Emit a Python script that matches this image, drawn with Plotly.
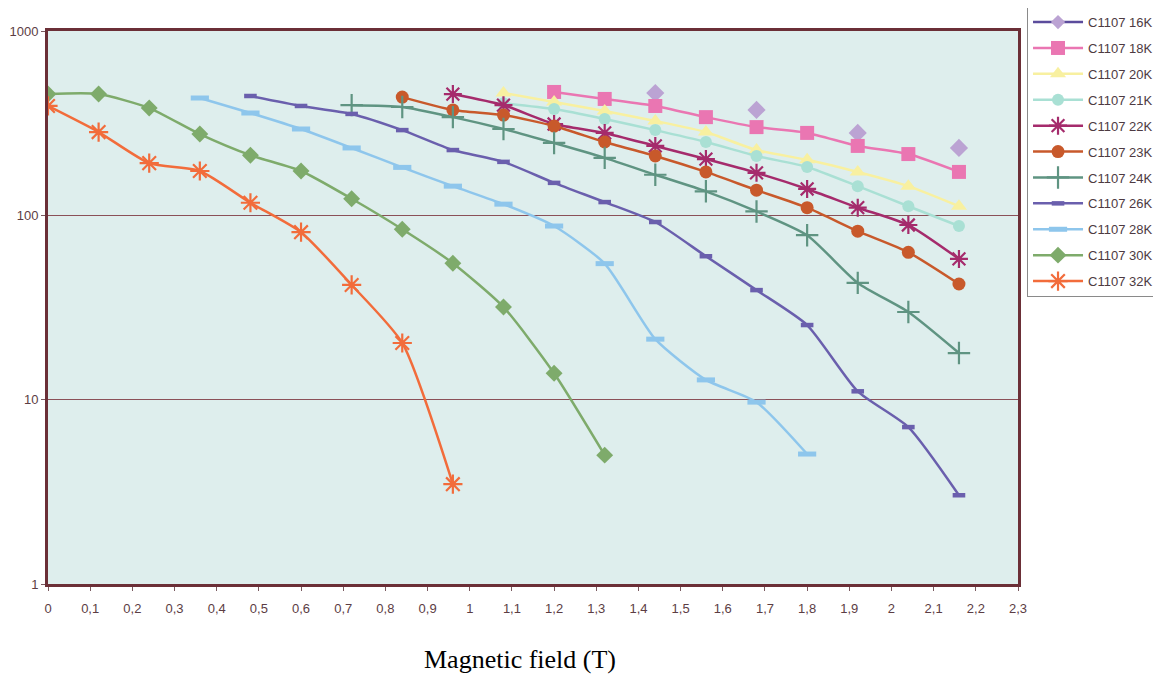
import plotly.graph_objects as go

x_16K = [1.44, 1.68, 1.92, 2.16]
y_16K = [461, 373, 280, 232]

x_18K = [1.2, 1.32, 1.44, 1.56, 1.68, 1.8, 1.92, 2.04, 2.16]
y_18K = [467, 428, 392, 341, 301, 280, 238, 215, 172]

x_20K = [1.08, 1.2, 1.32, 1.44, 1.56, 1.68, 1.8, 1.92, 2.04, 2.16]
y_20K = [461, 412, 368, 325, 283, 226, 200, 172, 144, 112]

x_21K = [1.08, 1.2, 1.32, 1.44, 1.56, 1.68, 1.8, 1.92, 2.04, 2.16]
y_21K = [406, 377, 333, 290, 250, 210, 183, 144, 112, 87.5]

x_22K = [0.96, 1.08, 1.2, 1.32, 1.44, 1.56, 1.68, 1.8, 1.92, 2.04, 2.16]
y_22K = [455, 396, 313, 280, 238, 202, 170, 139, 110, 88.6, 58]

x_23K = [0.84, 0.96, 1.08, 1.2, 1.32, 1.44, 1.56, 1.68, 1.8, 1.92, 2.04, 2.16]
y_23K = [438, 373, 350, 305, 250, 210, 172, 137, 110, 82, 63, 42.4]

x_24K = [0.72, 0.84, 0.96, 1.08, 1.2, 1.32, 1.44, 1.56, 1.68, 1.8, 1.92, 2.04, 2.16]
y_24K = [396, 387, 341, 294, 247, 205, 166, 135, 105, 78, 43, 29.9, 17.9]

x_26K = [0.48, 0.6, 0.72, 0.84, 0.96, 1.08, 1.2, 1.32, 1.44, 1.56, 1.68, 1.8, 1.92, 2.04, 2.16]
y_26K = [444, 392, 355, 290, 226, 195, 150, 118, 92, 60, 39.3, 25.4, 11.1, 7.1, 3.03]

x_28K = [0.36, 0.48, 0.6, 0.72, 0.84, 0.96, 1.08, 1.2, 1.32, 1.44, 1.56, 1.68, 1.8]
y_28K = [433, 359, 294, 232, 182, 144, 115, 87.5, 54.7, 21.3, 12.8, 9.7, 5.07]

x_30K = [0, 0.12, 0.24, 0.36, 0.48, 0.6, 0.72, 0.84, 0.96, 1.08, 1.2, 1.32]
y_30K = [455, 455, 382, 276, 212, 174, 123, 84, 55, 31.8, 13.9, 5.0]

x_32K = [0, 0.12, 0.24, 0.36, 0.48, 0.6, 0.72, 0.84, 0.96]
y_32K = [392, 283, 192, 174, 117, 81, 41.9, 20.3, 3.48]

series_names = ["C1107 16K", "C1107 18K", "C1107 20K", "C1107 21K", "C1107 22K",
                "C1107 23K", "C1107 24K", "C1107 26K", "C1107 28K", "C1107 30K",
                "C1107 32K"]

x_tickvals = [0, 0.1, 0.2, 0.3, 0.4, 0.5, 0.6, 0.7, 0.8, 0.9, 1, 1.1, 1.2,
              1.3, 1.4, 1.5, 1.6, 1.7, 1.8, 1.9, 2, 2.1, 2.2, 2.3]
x_ticktext = ["0", "0,1", "0,2", "0,3", "0,4", "0,5", "0,6", "0,7", "0,8", "0,9",
              "1", "1,1", "1,2", "1,3", "1,4", "1,5", "1,6", "1,7", "1,8", "1,9",
              "2", "2,1", "2,2", "2,3"]
y_tickvals = [1, 10, 100, 1000]
y_ticktext = ["1", "10", "100", "1000"]

styles = [
    # (x, y, line color, marker color, symbol, size, marker line width, open)
    (x_16K, y_16K, "#5b4c9c", "#bba3d3", "diamond", 14, 0, False),
    (x_18K, y_18K, "#ea76b2", "#ea76b2", "square", 14, 0, False),
    (x_20K, y_20K, "#f8f0a0", "#f8f0a0", "triangle-up", 14, 0, False),
    (x_21K, y_21K, "#a9e0d4", "#a9e0d4", "circle", 12, 0, False),
    (x_22K, y_22K, "#a52b6c", "#a52b6c", "asterisk-open", 15, 2.2, True),
    (x_23K, y_23K, "#c8592b", "#c8592b", "circle", 13, 0, False),
    (x_24K, y_24K, "#5f9482", "#5f9482", "cross-thin-open", 16, 2.2, True),
    (x_26K, y_26K, "#6a5fad", "#6a5fad", "line-ew-open", 9, 4.5, True),
    (x_28K, y_28K, "#8ec6ec", "#8ec6ec", "line-ew-open", 13, 5, True),
    (x_30K, y_30K, "#7eab6b", "#7eab6b", "diamond", 13, 0, False),
    (x_32K, y_32K, "#f26c3b", "#f26c3b", "asterisk-open", 16, 2.2, True),
]

fig = go.Figure()
for i, (name, st) in enumerate(zip(series_names, styles)):
    xs, ys, lc, mc, sym, sz, mlw, is_open = st
    marker = dict(symbol=sym, size=sz, color=mc)
    if is_open:
        marker["line"] = dict(color=mc, width=mlw)
    else:
        marker["line"] = dict(width=0)
    if i == 0:
        # data drawn as markers only; legend proxy carries line + marker
        fig.add_trace(go.Scatter(x=xs, y=ys, mode="markers", marker=marker,
                                 name=name, showlegend=False, legendgroup=name))
        fig.add_trace(go.Scatter(x=[None], y=[None], mode="lines+markers",
                                 marker=dict(marker, size=11), line=dict(color=lc, width=2.5),
                                 name=name, legendgroup=name))
    else:
        fig.add_trace(go.Scatter(x=xs, y=ys, mode="lines+markers", marker=marker,
                                 line=dict(color=lc, width=2.5, shape="spline",
                                           smoothing=0.6),
                                 name=name, legendgroup=name))

axis_color = "#6b2f37"
tick_font = dict(family="Liberation Sans, Arial", size=13, color="#5c3d44")

# page body has an 8px margin, so the figure is offset by (8, 8)
fig.update_layout(
    width=1153, height=667,
    margin=dict(l=40, r=143, t=23, b=91, autoexpand=False),
    paper_bgcolor="white",
    plot_bgcolor="#deeeed",
    showlegend=True,
    legend=dict(
        x=1.0093, y=1.045, xanchor="left", yanchor="top",
        bgcolor="white", bordercolor="#8a8a8a", borderwidth=1,
        font=dict(family="Liberation Sans, Arial", size=13, color="#4d3a42"),
        tracegroupgap=6, traceorder="grouped", itemwidth=50,
    ),
    xaxis=dict(
        range=[0, 2.3], tickvals=x_tickvals, ticktext=x_ticktext,
        showline=True, linecolor=axis_color, linewidth=3, mirror=True,
        ticks="outside", ticklen=4, tickcolor="#7a5a60", tickwidth=1,
        showgrid=False, zeroline=False, tickfont=tick_font,
        ticklabelstandoff=6, automargin=False,
    ),
    yaxis=dict(
        type="log", range=[0, 3], tickvals=y_tickvals, ticktext=y_ticktext,
        showline=True, linecolor=axis_color, linewidth=3, mirror=True,
        ticks="outside", ticklen=4, tickcolor="#7a5a60", tickwidth=1,
        showgrid=True, gridcolor="#8a5058", gridwidth=1.2,
        zeroline=False, tickfont=tick_font, automargin=False,
    ),
    annotations=[dict(
        text="Magnetic field (T)", xref="paper", yref="paper",
        x=0.4866, y=-0.137, xanchor="center", yanchor="middle",
        showarrow=False,
        font=dict(family="Liberation Serif, Times New Roman", size=26, color="black"),
    )],
)

fig.write_html("out.html")
